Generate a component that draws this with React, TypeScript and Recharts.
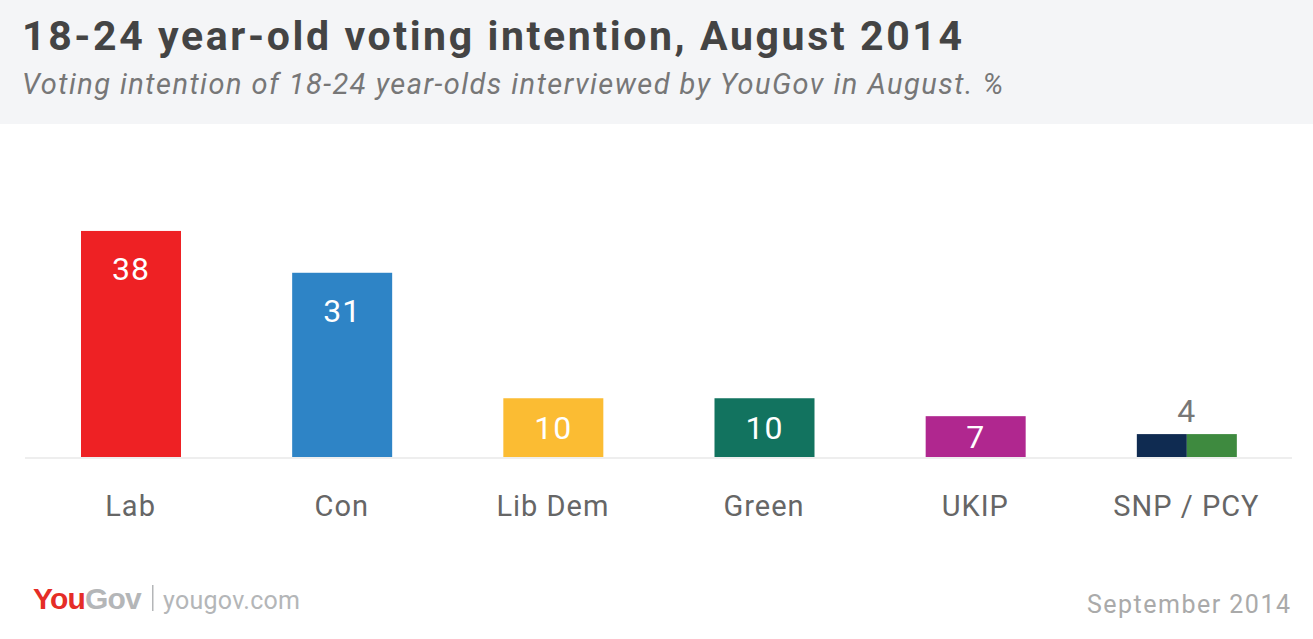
import React from 'react';
import { BarChart, Bar, XAxis, YAxis, LabelList } from 'recharts';

const categories = ['Lab', 'Con', 'Lib Dem', 'Green', 'UKIP', 'SNP / PCY'];
const values = [38, 31, 10, 10, 7, 4];
const barColors = ['#ee2124', '#2e84c6', '#fbbc33', '#12735f', '#b0278f', '#0f2b51'];
const splitColors = ['#0f2b51', '#3e8a3f'];

const data = categories.map((name, i) => ({ name, value: values[i] }));

const FONT = 'Roboto, "Open Sans", sans-serif';

const BarShape = (props: any) => {
  const { x, y, width, height, index } = props;
  if (index === categories.length - 1) {
    return (
      <g>
        <rect x={x} y={y} width={width / 2} height={height} fill={splitColors[0]} />
        <rect x={x + width / 2} y={y} width={width / 2} height={height} fill={splitColors[1]} />
      </g>
    );
  }
  return <rect x={x} y={y} width={width} height={height} fill={barColors[index]} />;
};

const ValueLabel = (props: any) => {
  const { x, y, width, height, value } = props;
  const cx = x + width / 2;
  if (height < 40) {
    return (
      <text x={cx} y={y - 12} textAnchor="middle" fontFamily={FONT} fontSize={32} fill="#777" letterSpacing={1}>
        {value}
      </text>
    );
  }
  const center = y + Math.min(38, height / 2);
  return (
    <text x={cx} y={center + 11} textAnchor="middle" fontFamily={FONT} fontSize={32} fill="#fff" letterSpacing={1}>
      {value}
    </text>
  );
};

export default function App() {
  return (
    <div style={{ position: 'absolute', left: 0, top: 0, width: 1313, height: 639, background: '#fff', overflow: 'hidden', fontFamily: FONT }}>
      <div style={{ position: 'absolute', left: 0, top: 0, width: 1313, height: 124, background: '#f4f5f7' }} />
      <svg style={{ position: 'absolute', left: 0, top: 0 }} width={1313} height={639}>
        <text x={22} y={50} fontFamily={FONT} fontWeight={700} fontSize={41} fill="#444" textLength={940} lengthAdjust="spacing">
          18-24 year-old voting intention, August 2014
        </text>
        <text x={22} y={94} fontFamily={FONT} fontStyle="italic" fontSize={29} fill="#777" textLength={981} lengthAdjust="spacing">
          Voting intention of 18-24 year-olds interviewed by YouGov in August. %
        </text>
        <text x={33} y={609} fontFamily={'Arial, "Liberation Sans", sans-serif'} fontWeight={700} fontSize={30} letterSpacing={-0.8}>
          <tspan fill="#e52d27">You</tspan>
          <tspan fill="#b4b6b8">Gov</tspan>
        </text>
        <rect x={152} y={585} width={1.5} height={26} fill="#b4b6b8" />
        <text x={163} y={609} fontFamily={FONT} fontSize={25} fill="#b4b6b8" textLength={137} lengthAdjust="spacing">
          yougov.com
        </text>
        <text x={1087} y={613} fontFamily={FONT} fontSize={25} fill="#aaa" textLength={203} lengthAdjust="spacing">
          September 2014
        </text>
      </svg>
      <div style={{ position: 'absolute', left: 0, top: 0 }}>
        <BarChart
          width={1313}
          height={639}
          data={data}
          margin={{ top: 219, right: 21, bottom: 121, left: 25 }}
        >
          <YAxis hide domain={[0, 40]} />
          <XAxis
            dataKey="name"
            height={60}
            tickLine={false}
            axisLine={{ stroke: '#eeeeee', strokeWidth: 2 }}
            tick={{ fontSize: 29, fill: '#666', fontFamily: FONT, letterSpacing: 1 }}
            tickMargin={31}
            interval={0}
          />
          <Bar dataKey="value" barSize={100} shape={<BarShape />} isAnimationActive={false}>
            <LabelList dataKey="value" content={<ValueLabel />} />
          </Bar>
        </BarChart>
      </div>
    </div>
  );
}
